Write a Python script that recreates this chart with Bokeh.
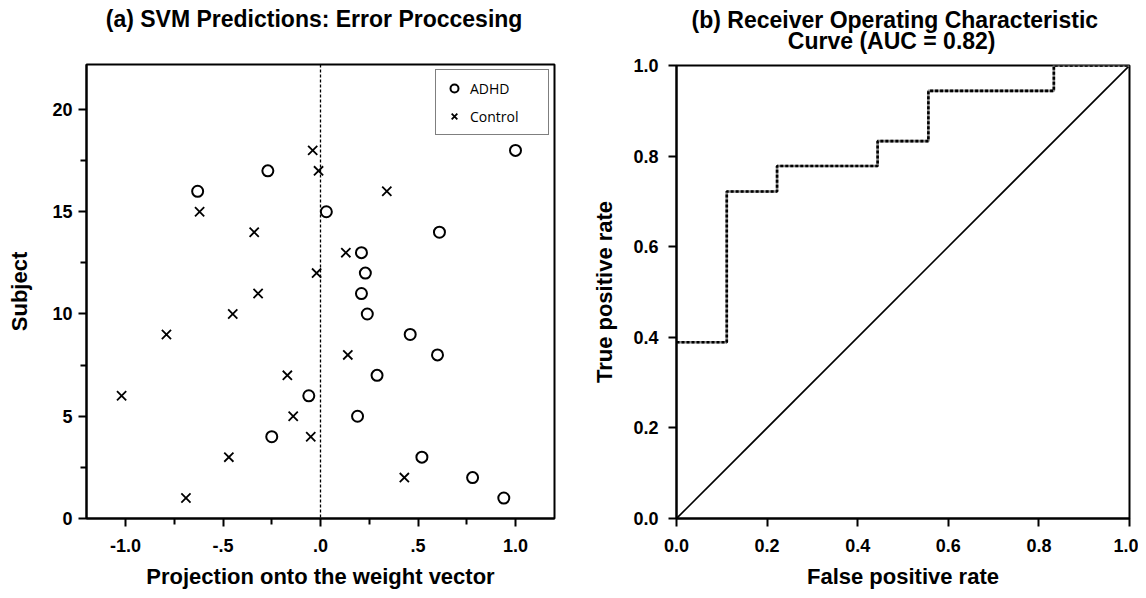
from bokeh.plotting import figure
from bokeh.layouts import row, column
from bokeh.models import FixedTicker, Legend, LegendItem, Span, Range1d, Label
from bokeh.embed import file_html
from bokeh.resources import INLINE

# ---------------- data ----------------
subjects = list(range(1, 19))
adhd_proj = [0.94, 0.78, 0.52, -0.25, 0.19, -0.06, 0.29, 0.60, 0.46,
             0.24, 0.21, 0.23, 0.21, 0.61, 0.03, -0.63, -0.27, 1.00]
control_proj = [-0.69, 0.43, -0.47, -0.05, -0.14, -1.02, -0.17, 0.14, -0.79,
                -0.45, -0.32, -0.02, 0.13, -0.34, -0.62, 0.34, -0.01, -0.04]
decision_boundary = 0.0

fpr = [0.0, 0.111, 0.111, 0.222, 0.222, 0.444, 0.444, 0.556, 0.556, 0.833, 0.833, 1.0]
tpr = [0.389, 0.389, 0.722, 0.722, 0.778, 0.778, 0.833, 0.833, 0.944, 0.944, 1.0, 1.0]
chance = [0.0, 1.0]

x_ticks = [-1.0, -0.5, 0.0, 0.5, 1.0]
x_tick_labels = ["-1.0", "-.5", ".0", ".5", "1.0"]
x_minor = [-0.75, -0.25, 0.25, 0.75]
y_ticks = [0, 5, 10, 15, 20]
y_minor = [2.5, 7.5, 12.5, 17.5]
roc_ticks = [0.0, 0.2, 0.4, 0.6, 0.8, 1.0]
roc_tick_labels = ["0.0", "0.2", "0.4", "0.6", "0.8", "1.0"]

title_a = "(a) SVM Predictions: Error Proccesing"
title_b1 = "(b) Receiver Operating Characteristic"
title_b2 = "Curve (AUC = 0.82)"

FONT = "Liberation Sans"
TITLE_H = 54


def style_axes(p, tick_size="18px"):
    p.xgrid.visible = False
    p.ygrid.visible = False
    p.outline_line_color = "black"
    p.outline_line_width = 2
    p.background_fill_color = "white"
    p.border_fill_color = "white"
    for ax in (p.xaxis, p.yaxis):
        ax.axis_line_color = "black"
        ax.axis_line_width = 2
        ax.major_tick_line_color = "black"
        ax.major_tick_line_width = 2
        ax.minor_tick_line_color = "black"
        ax.minor_tick_line_width = 2
        ax.major_tick_in = 0
        ax.major_tick_out = 8
        ax.minor_tick_in = 0
        ax.minor_tick_out = 6
        ax.major_label_text_font = FONT
        ax.major_label_text_font_style = "bold"
        ax.major_label_text_font_size = tick_size
        ax.major_label_text_color = "black"
        ax.axis_label_text_font = FONT
        ax.axis_label_text_font_style = "bold"
        ax.axis_label_text_font_size = "22px"
        ax.axis_label_text_color = "black"


def title_strip(plot, lines):
    """A thin figure (no axes) above a plot that carries its title text.
    It shares the plot's x range, so its frame lines up with the plot's frame."""
    t = figure(frame_width=plot.frame_width, height=TITLE_H,
               min_border_left=plot.min_border_left,
               min_border_right=plot.min_border_right,
               min_border_top=0, min_border_bottom=0,
               x_range=plot.x_range, y_range=Range1d(0, TITLE_H),
               x_axis_location=None, y_axis_location=None,
               output_backend="svg", toolbar_location=None)
    t.xgrid.visible = False
    t.ygrid.visible = False
    t.outline_line_color = None
    t.background_fill_color = "white"
    t.border_fill_color = "white"
    for text, cx, cy in lines:
        t.add_layout(Label(x=cx, y=TITLE_H - cy, text=text,
                           text_align="center", text_baseline="middle",
                           text_font=FONT, text_font_style="bold",
                           text_font_size="23px", text_color="black"))
    return t


# ---------------- panel (a) ----------------
p1 = figure(frame_width=468, frame_height=454,
            min_border_left=86, min_border_right=20,
            min_border_top=64 - TITLE_H, min_border_bottom=72,
            x_range=Range1d(-1.2, 1.2), y_range=Range1d(0, 22.2),
            output_backend="svg", toolbar_location=None)
style_axes(p1)
p1.xaxis.ticker = FixedTicker(ticks=x_ticks, minor_ticks=x_minor)
p1.xaxis.major_label_overrides = {t: l for t, l in zip(x_ticks, x_tick_labels)}
p1.yaxis.ticker = FixedTicker(ticks=y_ticks, minor_ticks=y_minor)
p1.xaxis.axis_label = "Projection onto the weight vector"
p1.yaxis.axis_label = "Subject"
p1.xaxis.major_label_standoff = 12
p1.xaxis.axis_label_standoff = 9
p1.yaxis.major_label_standoff = 6
p1.yaxis.axis_label_standoff = 17

p1.add_layout(Span(location=decision_boundary, dimension="height",
                   line_color="black", line_width=1.3, line_dash="3 2"))

r_adhd = p1.scatter(adhd_proj, subjects, marker="circle", size=11,
                    fill_color=None, line_color="black", line_width=2)
r_ctrl = p1.scatter(control_proj, subjects, marker="x", size=13,
                    line_color="black", line_width=1.8)

legend = Legend(items=[LegendItem(label="ADHD", renderers=[r_adhd]),
                       LegendItem(label="Control", renderers=[r_ctrl])],
                location="top_right", margin=5, padding=8, spacing=8,
                glyph_width=20, glyph_height=20, label_height=20,
                label_width=70, label_standoff=6,
                label_text_font="Open Sans", label_text_font_size="14px",
                label_text_color="black",
                border_line_color="black", border_line_width=1.5,
                background_fill_color="white", background_fill_alpha=1.0)
p1.add_layout(legend)

t1 = title_strip(p1, [(title_a, -0.033, 18)])

# ---------------- panel (b) ----------------
p2 = figure(frame_width=453, frame_height=453,
            min_border_left=102, min_border_right=9,
            min_border_top=65 - TITLE_H, min_border_bottom=72,
            x_range=Range1d(0, 1), y_range=Range1d(0, 1),
            output_backend="svg", toolbar_location=None)
style_axes(p2)
p2.xaxis.ticker = FixedTicker(ticks=roc_ticks, minor_ticks=[])
p2.yaxis.ticker = FixedTicker(ticks=roc_ticks, minor_ticks=[])
p2.xaxis.major_label_overrides = {t: l for t, l in zip(roc_ticks, roc_tick_labels)}
p2.yaxis.major_label_overrides = {t: l for t, l in zip(roc_ticks, roc_tick_labels)}
p2.xaxis.axis_label = "False positive rate"
p2.yaxis.axis_label = "True positive rate"
p2.xaxis.major_label_standoff = 12
p2.xaxis.axis_label_standoff = 9
p2.yaxis.major_label_standoff = 10
p2.yaxis.axis_label_standoff = 13

p2.line(chance, chance, line_color="black", line_width=1.6)
p2.line(fpr, tpr, line_color="#8a8a8a", line_width=2.6)
p2.line(fpr, tpr, line_color="black", line_width=2.6, line_dash="3 2")

t2 = title_strip(p2, [(title_b1, 0.482, 19), (title_b2, 0.475, 40)])

layout = row(column(t1, p1), column(t2, p2))
open("out.html", "w").write(file_html(layout, INLINE))
